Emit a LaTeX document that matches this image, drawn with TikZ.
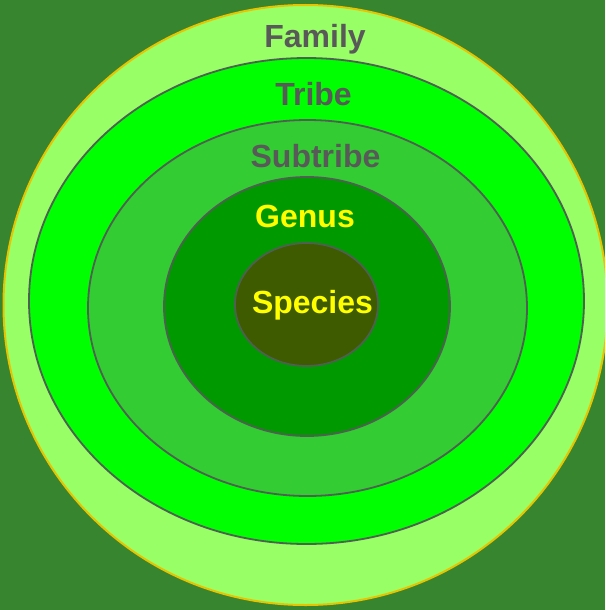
\documentclass[tikz,border=0pt]{standalone}
\usepackage{fontspec}
\setmainfont{Liberation Sans}
\usetikzlibrary{shapes.geometric}
\definecolor{bgdark}{HTML}{38852F}
\definecolor{famfill}{HTML}{99FF66}
\definecolor{famedge}{HTML}{E8C400}
\definecolor{tribefill}{HTML}{00FF00}
\definecolor{subfill}{HTML}{33CC33}
\definecolor{genfill}{HTML}{009900}
\definecolor{spfill}{HTML}{3F5B00}
\definecolor{ringedge}{HTML}{4F5F52}
\definecolor{labgrey}{HTML}{595959}
\definecolor{labyellow}{HTML}{FFFF00}
\tikzset{
  ring/.style={ellipse, inner sep=0pt, draw=ringedge, line width=1.8pt},
  lab/.style={anchor=base, font=\fontsize{32}{32}\selectfont\bfseries, inner sep=0pt},
}
\begin{document}
\begin{tikzpicture}[x=1pt,y=-1pt]
\useasboundingbox (0,0) rectangle (605,610);
\fill[bgdark] (0,0) rectangle (605,610);
\clip (0,0) rectangle (605,610);
\node[ring, draw=famedge, line width=2pt, fill=famfill, minimum width=604pt, minimum height=600pt] (family) at (305.5,305) {};
\node[ring, fill=tribefill, minimum width=555pt, minimum height=486pt] (tribe) at (306.5,301) {};
\node[ring, fill=subfill, minimum width=439pt, minimum height=376pt] (subtribe) at (307.5,308) {};
\node[ring, fill=genfill, minimum width=286pt, minimum height=259pt] (genus) at (307,306.5) {};
\node[ring, fill=spfill, minimum width=143pt, minimum height=123pt] (species) at (306.5,304.5) {};
\node[lab, text=labgrey] (tfamily) at (315,48) {Family};
\node[lab, text=labgrey] (ttribe) at (313.5,105) {Tribe};
\node[lab, text=labgrey] (tsubtribe) at (315.5,167) {Subtribe};
\node[lab, text=labyellow] (tgenus) at (305,227) {Genus};
\node[lab, text=labyellow] (tspecies) at (312.5,313) {Species};
\end{tikzpicture}
\end{document}
